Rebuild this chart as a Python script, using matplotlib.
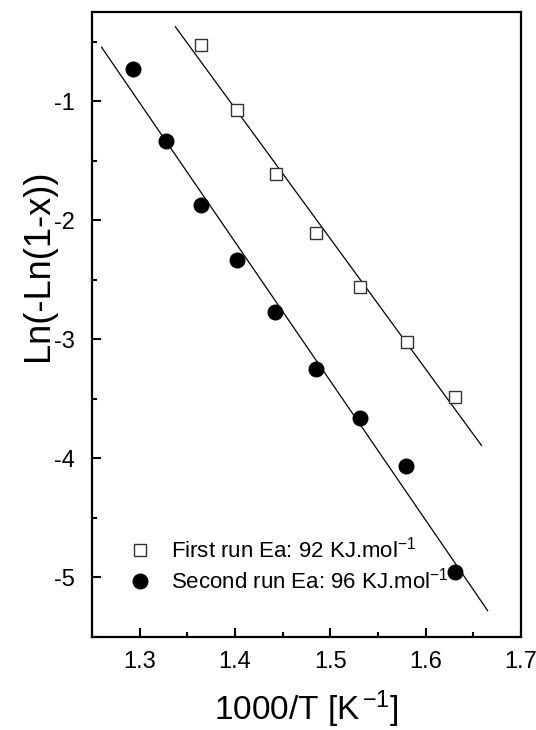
import numpy as np
import matplotlib
matplotlib.use("Agg")
import matplotlib.pyplot as plt

plt.rcParams['font.family'] = ['Liberation Sans', 'DejaVu Sans']
plt.rcParams['mathtext.fontset'] = 'custom'
plt.rcParams['mathtext.rm'] = 'Liberation Sans'
plt.rcParams['mathtext.it'] = 'Liberation Sans'

# first run (open squares)
x_first = [1.364, 1.402, 1.443, 1.485, 1.531, 1.580, 1.631]
y_first = [-0.53, -1.07, -1.61, -2.11, -2.56, -3.02, -3.48]

# second run (filled circles)
x_second = [1.293, 1.328, 1.364, 1.402, 1.442, 1.485, 1.531, 1.579, 1.631]
y_second = [-0.73, -1.33, -1.87, -2.33, -2.77, -3.25, -3.66, -4.06, -4.95]

# x span of the fitted lines
fit_first_range = [1.3375, 1.6585]
fit_second_range = [1.260, 1.665]

label_first = 'First run Ea: 92 KJ.mol$^{-1}$'
label_second = 'Second run Ea: 96 KJ.mol$^{-1}$'

fig = plt.figure(figsize=(5.36, 7.3), dpi=100)
ax = fig.add_axes([0.1716, 0.1274, 0.8004, 0.8562])

# linear fits
p1 = np.polyfit(x_first, y_first, 1)
p2 = np.polyfit(x_second, y_second, 1)
xf1 = np.array(fit_first_range)
xf2 = np.array(fit_second_range)
ax.plot(xf1, np.polyval(p1, xf1), color='black', lw=0.9)
ax.plot(xf2, np.polyval(p2, xf2), color='black', lw=0.9)

ax.plot(x_first, y_first, 's', ms=8.5, mfc='white', mec='#333333', mew=1.0,
        ls='none', label=label_first)
ax.plot(x_second, y_second, 'o', ms=10.5, color='black',
        ls='none', label=label_second)

ax.set_xlim(1.25, 1.70)
ax.set_ylim(-5.5, -0.25)
ax.set_xticks([1.3, 1.4, 1.5, 1.6, 1.7])
ax.set_xticks([1.35, 1.45, 1.55, 1.65], minor=True)
ax.set_yticks([-5, -4, -3, -2, -1])
ax.set_yticks([-5.5, -4.5, -3.5, -2.5, -1.5, -0.5], minor=True)
ax.set_xticklabels(['1.3', '1.4', '1.5', '1.6', '1.7'])
ax.set_yticklabels(['-5', '-4', '-3', '-2', '-1'])

ax.tick_params(which='both', direction='in', top=False, right=False,
               labelsize=17, width=1.5)
ax.tick_params(which='major', length=6.5)
ax.tick_params(axis='x', which='major', pad=10)
ax.tick_params(axis='y', which='major', pad=12)
ax.tick_params(which='minor', length=3.5)
for s in ax.spines.values():
    s.set_linewidth(1.6)

ax.set_xlabel('1000/T [K$^{\\,\\mathregular{-1}}$]', fontsize=24)
ax.set_ylabel('Ln(-Ln(1-x))', fontsize=26)
ax.xaxis.set_label_coords(0.5, -0.083)
ax.yaxis.set_label_coords(-0.085, 0.595)

ax.legend(loc='center left', bbox_to_anchor=(0.08, 0.115), frameon=False,
          fontsize=16, handlelength=1.2, handletextpad=0.8,
          labelspacing=0.25, borderpad=0, borderaxespad=0)

fig.savefig('out.png', dpi=100)
